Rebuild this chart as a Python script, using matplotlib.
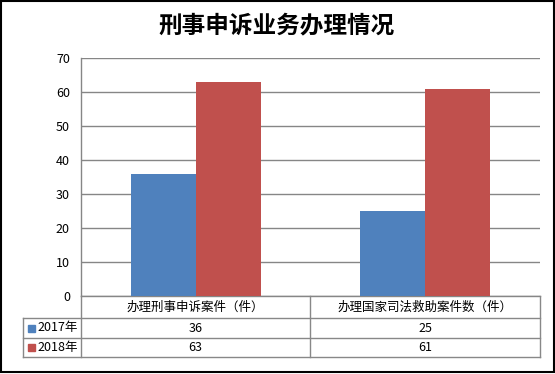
import matplotlib
matplotlib.use("Agg")
import matplotlib.pyplot as plt
from matplotlib.lines import Line2D
from matplotlib.patches import Rectangle

plt.rcParams['font.family'] = ['Noto Sans CJK SC', 'DejaVu Sans']

title = "刑事申诉业务办理情况"
categories = ["办理刑事申诉案件（件）", "办理国家司法救助案件数（件）"]
series_names = ["2017年", "2018年"]
values_2017 = [36, 25]
values_2018 = [63, 61]
colors = ["#4F81BD", "#C0504D"]
yticks = [0, 10, 20, 30, 40, 50, 60, 70]

W, H = 555, 374
fig = plt.figure(figsize=(W / 100, H / 100), dpi=100)
fig.patch.set_facecolor("white")

def fx(x):
    return x / W

def fy(y):
    return 1 - y / H

L, R, T, B = 81, 540, 58, 296
ax = fig.add_axes([fx(L), fy(B), fx(R - L), (B - T) / H])
ax.set_xlim(0, len(categories))
ax.set_ylim(0, 70)
bw = 65 / ((R - L) / len(categories))
xs = [i + 0.5 for i in range(len(categories))]
ax.bar([x - bw / 2 for x in xs], values_2017, width=bw, color=colors[0], zorder=3)
ax.bar([x + bw / 2 for x in xs], values_2018, width=bw, color=colors[1], zorder=3)
ax.set_yticks(yticks)
ax.set_yticklabels([str(v) for v in yticks], fontsize=9)
ax.set_xticks([])
ax.tick_params(axis='y', length=0, pad=8)
ax.grid(axis='y', color='#868686', linewidth=1, zorder=1)
for s in ['top', 'right']:
    ax.spines[s].set_visible(False)
for s in ['left', 'bottom']:
    ax.spines[s].set_color('#868686')
    ax.spines[s].set_linewidth(1)

gray = '#888888'
def line(x0, y0, x1, y1, color=gray, lw=1):
    fig.add_artist(Line2D([fx(x0), fx(x1)], [fy(y0), fy(y1)], color=color, linewidth=lw,
                          transform=fig.transFigure))

r0, r1, r2, r3 = 296, 318, 338, 357
cx = [L, 310, R]
for x in cx:
    line(x, r0, x, r3)
line(23, r1, 23, r3)
for y in [r1, r2, r3]:
    line(23, y, R, y)

centers = [(cx[0] + cx[1]) / 2, (cx[1] + cx[2]) / 2]
for c, lab in zip(centers, categories):
    fig.text(fx(c), fy((r0 + r1) / 2 + 0.5), lab, ha='center', va='center', fontsize=9)
for c, v in zip(centers, values_2017):
    fig.text(fx(c), fy((r1 + r2) / 2), str(v), ha='center', va='center', fontsize=9)
for c, v in zip(centers, values_2018):
    fig.text(fx(c), fy((r2 + r3) / 2), str(v), ha='center', va='center', fontsize=9)

for (ya, yb), name, col in zip([(r1, r2), (r2, r3)], series_names, colors):
    ym = (ya + yb) / 2
    fig.add_artist(Rectangle((fx(28), fy(ym + 3.5)), fx(7), 7 / H, color=col,
                             transform=fig.transFigure))
    fig.text(fx(37), fy(ym), name, ha='left', va='center', fontsize=9)

fig.text(fx(277), fy(25), title, ha='center', va='center', fontsize=17, fontweight='bold')

fig.add_artist(Rectangle((fx(0.5), fy(372)), fx(553), 371.5 / H, fill=False,
                         edgecolor='black', linewidth=1.5, transform=fig.transFigure))

fig.savefig("out.png", dpi=100)
